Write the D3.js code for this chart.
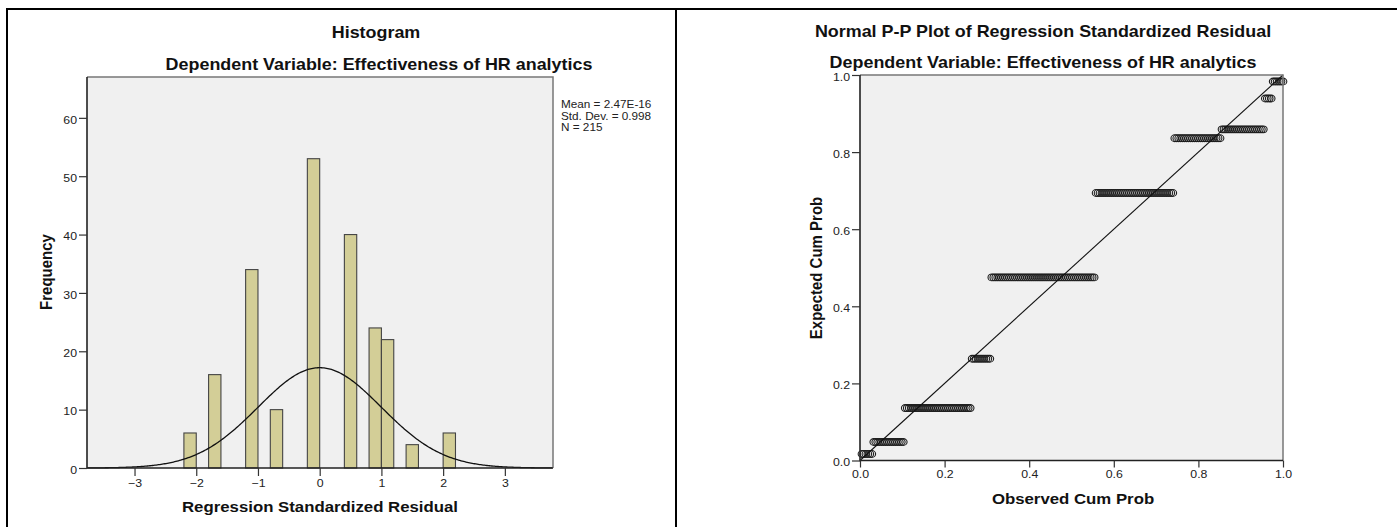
<!DOCTYPE html>
<html>
<head>
<meta charset="utf-8">
<script src="https://cdn.jsdelivr.net/npm/d3@7"></script>
<style>
  body { margin: 0; background: #fff; }
  svg { display: block; font-family: "Liberation Sans", Arial, sans-serif; }
</style>
</head>
<body>
<script>
// residual histogram (bin start, count)
var binStarts = [-2.2, -1.8, -1.2, -0.8, -0.2, 0.4, 0.8, 1.0, 1.4, 2.0];
var frequencies = [6, 16, 34, 10, 53, 40, 24, 22, 4, 6];
var binWidth = 0.2;
var histTicksX = [-3, -2, -1, 0, 1, 2, 3];
var histTicksY = [0, 10, 20, 30, 40, 50, 60];
var statsLines = ["Mean = 2.47E-16", "Std. Dev. = 0.998", "N = 215"];
var residMean = 2.47e-16, residSd = 0.998, residN = 215;

// P-P plot: expected cum prob for each residual group (same groups as the bars)
var expectedCumProb = [0.017, 0.048, 0.136, 0.264, 0.475, 0.694, 0.836, 0.859, 0.939, 0.983];
var ppTicks = [0, 0.2, 0.4, 0.6, 0.8, 1.0];

(function() {

  var SX = 1.12; // the source picture is stretched sideways a bit

  var svg = d3.select('body').append('svg')
      .attr('width', 1397)
      .attr('height', 527);

  function label(g, x, y, txt, size, bold, anchor, rot) {
    return g.append('text')
        .attr('transform', 'translate(' + x + ',' + y + ') scale(' + SX + ',1)' + (rot ? ' rotate(' + rot + ')' : ''))
        .attr('text-anchor', anchor || 'middle')
        .attr('font-size', size)
        .attr('font-weight', bold ? 'bold' : 'normal')
        .attr('fill', '#111')
        .text(txt);
  }

  function styleAxis(ax, side) {
    ax.select('.domain').remove();
    ax.selectAll('.tick line').attr('stroke', '#333').attr('stroke-width', 1.2);
    ax.selectAll('.tick text')
        .attr('font-size', 11)
        .attr('font-family', '"Liberation Sans", Arial, sans-serif')
        .attr('fill', '#222');
    if (side == 'left') {
      ax.selectAll('.tick text').attr('transform', 'scale(' + SX + ',1)').attr('x', -10 / SX).attr('y', 1.8);
    } else {
      ax.selectAll('.tick text').attr('transform', 'scale(' + SX + ',1)');
    }
  }

  // page table lines
  svg.append('rect').attr('x', 6).attr('y', 8).attr('width', 1391).attr('height', 2).attr('fill', '#000');
  svg.append('rect').attr('x', 6).attr('y', 8).attr('width', 2).attr('height', 519).attr('fill', '#000');
  svg.append('rect').attr('x', 675).attr('y', 8).attr('width', 2).attr('height', 519).attr('fill', '#000');

  /* ---------- Histogram ---------- */
  var left = svg.append('g');

  var hx = d3.scaleLinear().domain([-3.77, 3.78]).range([87, 553]);
  var hy = d3.scaleLinear().domain([0, 67]).range([468, 77]);

  left.append('rect')
      .attr('x', 87).attr('y', 77)
      .attr('width', 553 - 87).attr('height', 468 - 77)
      .attr('fill', '#f0f0f0');

  left.selectAll('.bar')
      .data(frequencies)
    .enter().append('rect')
      .attr('class', 'bar')
      .attr('x', function(d, i) { return hx(binStarts[i]); })
      .attr('width', function(d, i) { return hx(binStarts[i] + binWidth) - hx(binStarts[i]); })
      .attr('y', function(d) { return hy(d); })
      .attr('height', function(d) { return hy(0) - hy(d); })
      .attr('fill', '#d3ce97')
      .attr('stroke', '#444')
      .attr('stroke-width', 1.1);

  // fitted normal curve from the stats shown in the legend
  var curveX = d3.range(-3.77, 3.781, 0.02);
  var normal = function(v) {
    var z = (v - residMean) / residSd;
    return residN * binWidth * Math.exp(-0.5 * z * z) / (residSd * Math.sqrt(2 * Math.PI));
  };
  left.append('path')
      .datum(curveX)
      .attr('fill', 'none')
      .attr('stroke', '#111')
      .attr('stroke-width', 1.3)
      .attr('d', d3.line().x(function(d) { return hx(d); }).y(function(d) { return hy(normal(d)); }));

  // frame
  left.append('path').attr('d', 'M87,77H553V468').attr('fill', 'none').attr('stroke', '#777').attr('stroke-width', 1.5);
  left.append('path').attr('d', 'M87,77V468H553').attr('fill', 'none').attr('stroke', '#222').attr('stroke-width', 1.6);

  var hxAxis = left.append('g').attr('transform', 'translate(0,468)')
      .call(d3.axisBottom(hx).tickValues(histTicksX).tickSize(8).tickPadding(3).tickFormat(d3.format('d')));
  styleAxis(hxAxis, 'bottom');
  var hyAxis = left.append('g').attr('transform', 'translate(87,0)')
      .call(d3.axisLeft(hy).tickValues(histTicksY).tickSize(8).tickFormat(d3.format('d')));
  styleAxis(hyAxis, 'left');

  statsLines.forEach(function(s, i) {
    label(left, 561, 108 + i * 11.7, s, 10.5, false, 'start').attr('fill', '#222');
  });

  label(left, 376, 38.3, 'Histogram', 16, true);
  label(left, 379, 70, 'Dependent Variable: Effectiveness of HR analytics', 16, true);
  label(left, 320, 512, 'Regression Standardized Residual', 15, true);
  label(left, 52, 272, 'Frequency', 15, true, 'middle', -90);

  /* ---------- Normal P-P plot ---------- */
  var right = svg.append('g');

  var px = d3.scaleLinear().domain([0, 1]).range([860, 1283]);
  var py = d3.scaleLinear().domain([0, 1]).range([460.5, 75]);

  right.append('rect')
      .attr('x', 860).attr('y', 75)
      .attr('width', 1283 - 860).attr('height', 460.5 - 75)
      .attr('fill', '#f0f0f0');

  // observed cum prob = rank / N, residuals grouped as in the histogram
  var ends = d3.cumsum(frequencies);
  var points = [];
  frequencies.forEach(function(f, g) {
    d3.range(f).forEach(function(k) {
      points.push({ obs: (ends[g] - f + k + 1) / residN, exp: expectedCumProb[g] });
    });
  });

  right.selectAll('.pt')
      .data(points)
    .enter().append('ellipse')
      .attr('class', 'pt')
      .attr('cx', function(d) { return px(d.obs); })
      .attr('cy', function(d) { return py(d.exp); })
      .attr('rx', 3.4 * SX)
      .attr('ry', 3.4)
      .attr('fill', 'none')
      .attr('stroke', '#1e1e1e')
      .attr('stroke-width', 1.1);

  right.append('line')
      .attr('x1', px(0)).attr('y1', py(0))
      .attr('x2', px(1)).attr('y2', py(1))
      .attr('stroke', '#111')
      .attr('stroke-width', 1.1);

  right.append('path').attr('d', 'M860,75H1283V460.5').attr('fill', 'none').attr('stroke', '#777').attr('stroke-width', 1.5);
  right.append('path').attr('d', 'M860,75V460.5H1283').attr('fill', 'none').attr('stroke', '#222').attr('stroke-width', 1.6);

  var pxAxis = right.append('g').attr('transform', 'translate(0,460.5)')
      .call(d3.axisBottom(px).tickValues(ppTicks).tickSize(7).tickPadding(2.5).tickFormat(d3.format('.1f')));
  styleAxis(pxAxis, 'bottom');
  var pyAxis = right.append('g').attr('transform', 'translate(860,0)')
      .call(d3.axisLeft(py).tickValues(ppTicks).tickSize(8).tickFormat(d3.format('.1f')));
  styleAxis(pyAxis, 'left');

  label(right, 1043, 37.3, 'Normal P-P Plot of Regression Standardized Residual', 16, true);
  label(right, 1043, 67.5, 'Dependent Variable: Effectiveness of HR analytics', 16, true);
  label(right, 1073, 504, 'Observed Cum Prob', 15, true);
  label(right, 822, 268, 'Expected Cum Prob', 15, true, 'middle', -90);

})();
</script>
</body>
</html>
